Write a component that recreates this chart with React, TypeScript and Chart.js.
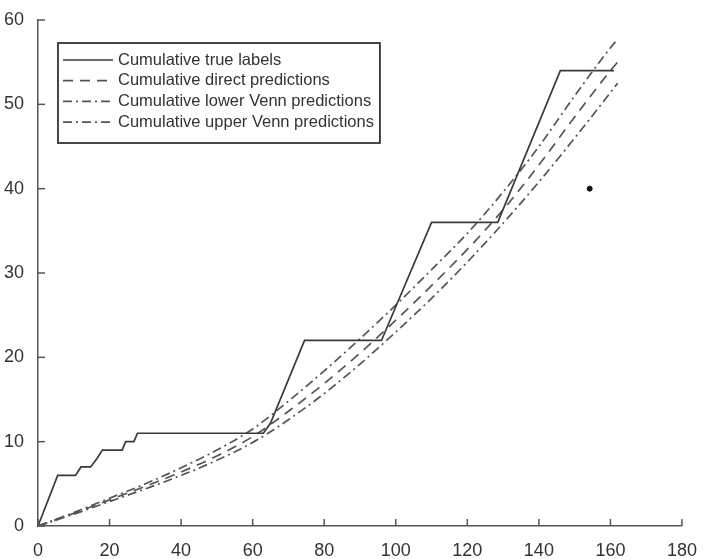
import React, { useEffect, useRef } from "react";
import { Chart, registerables } from "chart.js";

Chart.register(...registerables);

// ---- Data ----
const xTickValues = [0, 20, 40, 60, 80, 100, 120, 140, 160, 180];
const yTickValues = [0, 10, 20, 30, 40, 50, 60];

const seriesLabels = [
  "Cumulative true labels",
  "Cumulative direct predictions",
  "Cumulative lower Venn predictions",
  "Cumulative upper Venn predictions",
];

// Cumulative true labels (step-like, solid)
const trueX = [0, 5.5, 10.5, 12, 14.7, 16.5, 18, 23.5, 24.5, 26.8, 27.8, 63, 65, 74.5, 96, 110, 128.5, 146, 161];
const trueY = [0, 6, 6, 7, 7, 8, 9, 9, 10, 10, 11, 11, 12.2, 22, 22, 36, 36, 54, 54];

// Prediction curves
const predX = [0, 10, 20, 30, 40, 50, 60, 70, 80, 90, 100, 110, 120, 130, 140, 150, 160, 162];
const directY = [0, 1.5, 3.1, 4.7, 6.4, 8.3, 10.6, 13.6, 16.9, 20.5, 24.4, 28.5, 32.8, 37.5, 42.8, 48.5, 54.0, 55.0];
const lowerY = [0, 1.4, 2.9, 4.4, 6.0, 7.8, 9.9, 12.6, 15.7, 19.2, 23.0, 27.0, 31.3, 35.9, 40.8, 46.0, 51.4, 52.5];
const upperY = [0, 1.6, 3.3, 5.0, 6.9, 9.0, 11.5, 14.8, 18.4, 22.2, 26.2, 30.4, 34.7, 39.6, 45.0, 51.0, 56.7, 57.7];

// Stray dot in the plot
const strayX = [154.2];
const strayY = [40];

// ---- Styling ----
const FONT = "'Liberation Sans', Arial, Helvetica, sans-serif";
const AXIS_COLOR = "#555";
const TEXT_COLOR = "#333";
const SOLID = "#3a3a3a";
const DASHED = "#555";
const DASH = [10, 7];
const DASH_DOT = [9, 4, 2, 4];

const toPts = (xs: number[], ys: number[]) => xs.map((x, i) => ({ x, y: ys[i] }));

const overlayPlugin = {
  id: "overlay",
  afterDraw(chart: any) {
    const ctx = chart.ctx as CanvasRenderingContext2D;
    const xs = chart.scales.x;
    const ys = chart.scales.y;
    const area = chart.chartArea;
    ctx.save();
    // inward tick marks
    ctx.strokeStyle = AXIS_COLOR;
    ctx.lineWidth = 1.5;
    ctx.setLineDash([]);
    xTickValues.forEach((v) => {
      const px = xs.getPixelForValue(v);
      ctx.beginPath();
      ctx.moveTo(px, area.bottom);
      ctx.lineTo(px, area.bottom - 7);
      ctx.stroke();
    });
    yTickValues.forEach((v) => {
      const py = ys.getPixelForValue(v);
      ctx.beginPath();
      ctx.moveTo(area.left, py);
      ctx.lineTo(area.left + 7, py);
      ctx.stroke();
    });

    // legend box
    const fontSize = 16.5;
    ctx.font = `${fontSize}px ${FONT}`;
    const datasets = chart.data.datasets.filter((d: any) => seriesLabels.includes(d.label));
    const textW = Math.max(...datasets.map((d: any) => ctx.measureText(d.label).width));
    const left = area.left + 20;
    const top = area.top + 23;
    const sample = 50;
    const rowH = 20.7;
    const boxW = 5 + sample + 5 + textW + 6;
    const boxH = 100;
    ctx.fillStyle = "#fff";
    ctx.fillRect(left, top, boxW, boxH);
    ctx.strokeStyle = "#333";
    ctx.lineWidth = 1.8;
    ctx.strokeRect(left, top, boxW, boxH);
    datasets.forEach((d: any, i: number) => {
      const cy = top + 17 + i * rowH;
      ctx.save();
      ctx.strokeStyle = d.borderColor;
      ctx.lineWidth = d.borderWidth;
      ctx.setLineDash(d.borderDash || []);
      ctx.beginPath();
      ctx.moveTo(left + 5, cy);
      ctx.lineTo(left + 5 + sample, cy);
      ctx.stroke();
      ctx.restore();
      ctx.fillStyle = TEXT_COLOR;
      ctx.textBaseline = "middle";
      ctx.textAlign = "left";
      ctx.fillText(d.label, left + 5 + sample + 5, cy);
    });
    ctx.restore();
  },
};

export default function App() {
  const canvasRef = useRef<HTMLCanvasElement | null>(null);

  useEffect(() => {
    if (!canvasRef.current) return;
    const chart = new Chart(canvasRef.current, {
      type: "line",
      data: {
        datasets: [
          {
            label: seriesLabels[0],
            data: toPts(trueX, trueY),
            borderColor: SOLID,
            borderWidth: 1.7,
            pointRadius: 0,
            tension: 0,
            fill: false,
          },
          {
            label: seriesLabels[1],
            data: toPts(predX, directY),
            borderColor: DASHED,
            borderWidth: 1.7,
            borderDash: DASH,
            pointRadius: 0,
            cubicInterpolationMode: "monotone",
            fill: false,
          },
          {
            label: seriesLabels[2],
            data: toPts(predX, lowerY),
            borderColor: DASHED,
            borderWidth: 1.7,
            borderDash: DASH_DOT,
            pointRadius: 0,
            cubicInterpolationMode: "monotone",
            fill: false,
          },
          {
            label: seriesLabels[3],
            data: toPts(predX, upperY),
            borderColor: DASHED,
            borderWidth: 1.7,
            borderDash: DASH_DOT,
            pointRadius: 0,
            cubicInterpolationMode: "monotone",
            fill: false,
          },
          {
            type: "scatter",
            label: "stray",
            data: toPts(strayX, strayY),
            backgroundColor: "#111",
            borderColor: "#111",
            pointRadius: 2.5,
            showLine: false,
          } as any,
        ],
      },
      options: {
        animation: false,
        responsive: false,
        maintainAspectRatio: false,
        layout: { padding: { top: 20, right: 17, left: 0, bottom: 0 } },
        plugins: {
          legend: { display: false },
          tooltip: { enabled: false },
        },
        scales: {
          x: {
            type: "linear",
            min: 0,
            max: 180,
            afterFit: (s: any) => {
              s.height = 33;
            },
            afterBuildTicks: (s: any) => {
              s.ticks = xTickValues.map((v) => ({ value: v }));
            },
            grid: { display: false },
            border: { display: true, color: AXIS_COLOR, width: 1.5 },
            ticks: {
              color: TEXT_COLOR,
              padding: 6,
              maxRotation: 0,
              font: { size: 18, family: FONT },
            },
          },
          y: {
            type: "linear",
            min: 0,
            max: 60,
            afterFit: (s: any) => {
              s.width = 38;
            },
            afterBuildTicks: (s: any) => {
              s.ticks = yTickValues.map((v) => ({ value: v }));
            },
            grid: { display: false },
            border: { display: true, color: AXIS_COLOR, width: 1.5 },
            ticks: {
              color: TEXT_COLOR,
              padding: 6,
              font: { size: 18, family: FONT },
            },
          },
        },
      },
      plugins: [overlayPlugin],
    });
    return () => chart.destroy();
  }, []);

  return (
    <div style={{ position: "absolute", left: 0, top: 0, width: 703, height: 559, background: "#fff" }}>
      <canvas ref={canvasRef} width={703} height={559} style={{ display: "block" }} />
    </div>
  );
}
